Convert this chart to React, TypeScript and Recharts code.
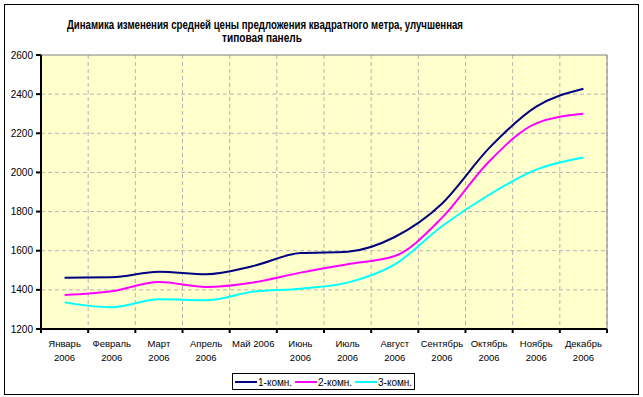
import React from "react";
import {
  LineChart,
  Line,
  XAxis,
  YAxis,
  CartesianGrid,
  ReferenceLine,
} from "recharts";

const months = [
  "Январь\n2006",
  "Февраль\n2006",
  "Март\n2006",
  "Апрель\n2006",
  "Май 2006",
  "Июнь\n2006",
  "Июль\n2006",
  "Август\n2006",
  "Сентябрь\n2006",
  "Октябрь\n2006",
  "Ноябрь\n2006",
  "Декабрь\n2006",
];
const room1 = [1462, 1464, 1493, 1480, 1522, 1588, 1595, 1670, 1840, 2124, 2336, 2428];
const room2 = [1374, 1393, 1440, 1415, 1438, 1488, 1531, 1573, 1768, 2056, 2251, 2300];
const room3 = [1336, 1311, 1352, 1347, 1391, 1406, 1437, 1530, 1725, 1886, 2014, 2076];
const seriesNames = ["1-комн.", "2-комн.", "3-комн."];
const seriesColors = ["#000080", "#FF00FF", "#00FFFF"];
const yTicks = [1200, 1400, 1600, 1800, 2000, 2200, 2400, 2600];
const titleLines = [
  "Динамика изменения средней цены предложения квадратного метра, улучшенная",
  "типовая панель",
];

// category slots: each month sits in the middle of its slot (index + 0.5)
const data = months.map((m, i) => ({
  slot: i + 0.5,
  s1: room1[i],
  s2: room2[i],
  s3: room3[i],
}));
const boundaryTicks = [...months.map((_, i) => i), months.length];
const keys = ["s1", "s2", "s3"];
const yMin = yTicks[0];
const yMax = yTicks[yTicks.length - 1];

const FONT = "Arial, 'Liberation Sans', sans-serif";

const MonthTick = (props: any) => {
  const { x, y, payload, width } = props;
  const idx = Math.round(payload.value);
  if (idx >= months.length) return <g />;
  const half = width / months.length / 2;
  const lines = months[idx].split("\n");
  return (
    <g>
      {lines.map((ln: string, i: number) => (
        <text
          key={i}
          x={x + half}
          y={y + 14 + i * 14}
          textAnchor="middle"
          fontSize={9.5}
          fontFamily={FONT}
          fill="#000"
        >
          {ln}
        </text>
      ))}
    </g>
  );
};

export default function App() {
  return (
    <div
      style={{
        position: "absolute",
        left: 0,
        top: 0,
        width: 643,
        height: 397,
        background: "#fff",
        fontFamily: FONT,
      }}
    >
      {/* plot-area background */}
      <div
        style={{
          position: "absolute",
          left: 41,
          top: 55,
          width: 566,
          height: 274,
          background: "#FFFFCC",
        }}
      />
      <svg
        width={643}
        height={50}
        style={{ position: "absolute", left: 0, top: 0 }}
      >
        <text
          x={265}
          y={29}
          textAnchor="middle"
          fontSize={12}
          fontWeight="bold"
          fontFamily={FONT}
          textLength={396}
          lengthAdjust="spacingAndGlyphs"
        >
          {titleLines[0]}
        </text>
        <text
          x={262}
          y={42}
          textAnchor="middle"
          fontSize={12}
          fontWeight="bold"
          fontFamily={FONT}
          textLength={80}
          lengthAdjust="spacingAndGlyphs"
        >
          {titleLines[1]}
        </text>
      </svg>
      <div style={{ position: "absolute", left: 0, top: 0 }}>
        <LineChart
          width={643}
          height={397}
          data={data}
          margin={{ top: 55, right: 36, bottom: 29, left: 0 }}
        >
          <CartesianGrid
            horizontal={false}
            stroke="#B4B4B4"
            strokeDasharray="4 3"
          />
          {yTicks.slice(1, -1).map((t) => (
            <ReferenceLine
              key={t}
              y={t}
              stroke="#B4B4B4"
              strokeDasharray="4 3"
            />
          ))}
          <ReferenceLine y={yMax} stroke="#808080" strokeWidth={1} />
          <ReferenceLine x={months.length} stroke="#808080" strokeWidth={1} />
          <XAxis
            dataKey="slot"
            type="number"
            domain={[0, months.length]}
            ticks={boundaryTicks}
            interval={0}
            height={39}
            tickSize={4}
            tickMargin={0}
            axisLine={{ stroke: "#000", strokeWidth: 2 }}
            tickLine={{ stroke: "#000", strokeWidth: 2 }}
            tick={<MonthTick />}
            allowDataOverflow
          />
          <YAxis
            domain={[yMin, yMax]}
            ticks={yTicks}
            width={41}
            tickSize={5}
            tickMargin={3}
            axisLine={{ stroke: "#000", strokeWidth: 2 }}
            tickLine={{ stroke: "#000", strokeWidth: 2 }}
            tick={{ fontSize: 10, fill: "#000", fontFamily: FONT }}
            interval={0}
          />
          {keys.map((k, i) => (
            <Line
              key={k}
              dataKey={k}
              name={seriesNames[i]}
              type="monotone"
              stroke={seriesColors[i]}
              strokeWidth={2}
              dot={false}
              activeDot={false}
              isAnimationActive={false}
            />
          ))}
        </LineChart>
      </div>
      <div
        style={{
          position: "absolute",
          left: 4,
          top: 4,
          width: 635,
          height: 391,
          border: "1px solid #000",
          boxSizing: "border-box",
          pointerEvents: "none",
        }}
      />
      <div
        style={{
          position: "absolute",
          left: 232,
          top: 373,
          width: 183,
          height: 17,
          border: "1px solid #000",
          boxSizing: "border-box",
          background: "#fff",
        }}
      >
        <svg width={181} height={15} style={{ display: "block" }}>
          {seriesNames.map((n, i) => {
            const x0 = 2 + i * 60;
            return (
              <g key={n}>
                <line
                  x1={x0}
                  x2={x0 + 22}
                  y1={8}
                  y2={8}
                  stroke={seriesColors[i]}
                  strokeWidth={2}
                />
                <text
                  x={x0 + 23}
                  y={11.5}
                  fontSize={10}
                  fontFamily={FONT}
                  fill="#000"
                >
                  {n}
                </text>
              </g>
            );
          })}
        </svg>
      </div>
    </div>
  );
}
